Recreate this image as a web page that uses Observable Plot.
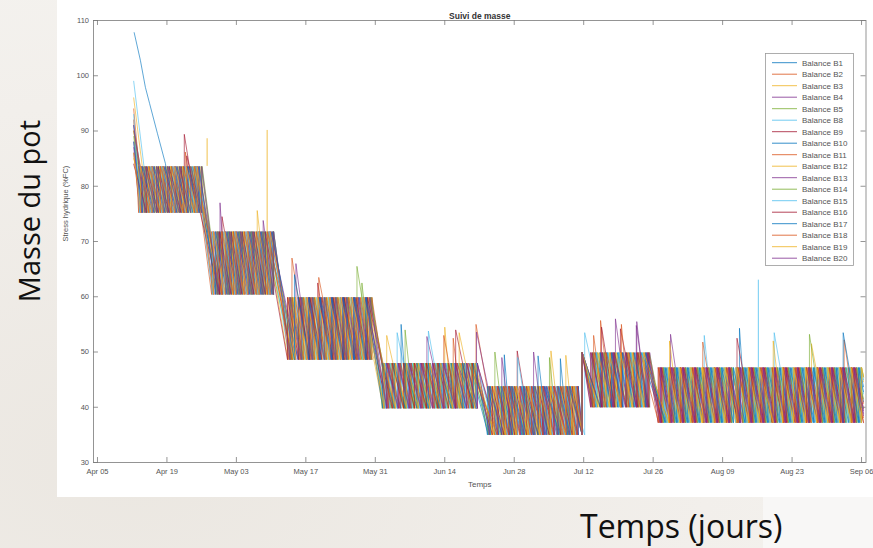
<!DOCTYPE html>
<html><head><meta charset="utf-8">
<script src="https://cdn.jsdelivr.net/npm/d3@7"></script>
<script src="https://cdn.jsdelivr.net/npm/@observablehq/plot@0.6"></script>
<style>
html,body{margin:0;padding:0;}
body{width:873px;height:548px;overflow:hidden;background:#f1eeea;}
#page{position:relative;width:873px;height:548px;overflow:hidden;
  background:radial-gradient(ellipse at 15% 85%, #ebe7e1 0%, #f2efeb 55%, #f6f5f2 100%);}
#fig{position:absolute;left:57px;top:0;width:816px;height:497px;background:#fff;}
#patch{position:absolute;left:763px;top:497px;width:110px;height:51px;background:#f8f7f6;}
#chart{position:absolute;left:0;top:0;}
#legend{position:absolute;left:765px;top:53px;}
.big{position:absolute;font-family:"Open Sans",sans-serif;color:#111;line-height:1;white-space:nowrap;}
#ylab{left:28px;top:211px;font-size:29px;transform:translate(-50%,-50%) rotate(-90deg);}
#xlab{left:580px;top:510px;font-size:32px;}
</style></head><body>
<div id="page">
  <div id="fig"></div>
  <div id="patch"></div>
  <div id="chart"></div>
  <svg id="legend" width="89" height="213"></svg>
  <div id="ylab" class="big">Masse du pot</div>
  <div id="xlab" class="big">Temps (jours)</div>
</div>
<script>
// ---------- data ----------
const seriesNames = ["Balance B1","Balance B2","Balance B3","Balance B4","Balance B5","Balance B8","Balance B9","Balance B10","Balance B11","Balance B12","Balance B13","Balance B14","Balance B15","Balance B16","Balance B17","Balance B18","Balance B19","Balance B20"];
const palette = ["#0072BD","#D95319","#EDB120","#7E2F8E","#77AC30","#4DBEEE","#A2142F"];

const xTickDates = ["2021-04-05","2021-04-19","2021-05-03","2021-05-17","2021-05-31","2021-06-14","2021-06-28","2021-07-12","2021-07-26","2021-08-09","2021-08-23","2021-09-06"];
const yTicks = [30,40,50,60,70,80,90,100,110];
const xDomainDays = [-0.8, 154.9];
const yDomain = [30, 110];

// watering regime phases (days since Apr 05)
const phaseStart = [0, 22.5, 37.5, 56.5, 77.5, 97.6, 112];
const phaseLow  = [75.2, 60.4, 48.6, 39.8, 35.0, 40.0, 37.2];
const phaseHigh = [83.6, 71.8, 59.9, 48.0, 43.8, 49.9, 47.2];

const startDay = 7.3;
const startVals = [107.8, 92, 96, 88, 90, 99, 86, 91, 94, 85, 87, 89, 93, 84, 88, 90, 86, 91];
const b1Start = [[7.4,107.8],[8.65,102.8],[9.66,97.9],[10.5,95.0],[12.1,89.5],[13.7,84.1]];
const endDay = 154.4;
const endVals = [41, 38.1, 44.6, 39.4, 45.5, 42.4, 37.2, 43.7, 40.7, 45.5, 38.5, 41.5, 45.0, 39.8, 42.8, 37.3, 45.5, 38.9];

// watering events (days since Apr 05) per series
const waterDays = [
 [15.0,17.4,19.8, 24.1,26.4,28.6,31.0,33.3,35.5, 39.0,41.3,43.5,45.9,48.2,50.4,52.8,55.1, 58.8,61.1,63.3,65.7,68.0,70.2,72.6,74.9, 78.8,81.1,83.3,85.7,88.0,90.2,92.6,94.9, 97.7,100.3,102.6,104.8,107.2,109.5, 114.0,116.3,118.5,120.9,123.2,125.4,127.8,130.1,132.3,134.7,137.0,139.2,141.6,143.9,146.1,148.5,150.8,153.0],
 [8.3,10.6,12.8,15.2,17.5,19.7, 23.0,25.3,27.5,29.9,32.2,34.4, 40.1,42.4,44.6,47.0,49.3,51.5,53.9, 57.7,60.0,62.2,64.6,66.9,69.1,71.5,73.8,76.0, 80.2,82.5,84.7,87.1,89.4,91.6,94.0,96.3, 97.7,99.6,101.9,104.1,106.5,108.8,111.0, 113.3,115.6,117.8,120.2,122.5,124.7,127.1,129.4,131.6,134.0,136.3,138.5,140.9,143.2,145.4,147.8,150.1,152.3],
 [10.2,12.5,14.7,17.1,19.4, 24.9,27.2,29.4,31.8,34.1, 38.4,40.7,42.9,45.3,47.6,49.8,52.2,54.5, 59.3,61.6,63.8,66.2,68.5,70.7,73.1,75.4, 79.4,81.7,83.9,86.3,88.6,90.8,93.2,95.5, 97.7,101.2,103.5,105.7,108.1,110.4, 114.8,117.1,119.3,121.7,124.0,126.2,128.6,130.9,133.1,135.5,137.8,140.0,142.4,144.7,146.9,149.3,151.6,153.8],
 [8.8,11.1,13.3,15.7,18.0,20.2, 23.5,25.8,28.0,30.4,32.7,34.9, 40.4,42.7,44.9,47.3,49.6,51.8,54.2, 58.2,60.5,62.7,65.1,67.4,69.6,72.0,74.3,76.5, 80.8,83.1,85.3,87.7,90.0,92.2,94.6,96.9, 97.7,99.9,102.2,104.4,106.8,109.1,111.3, 113.6,115.9,118.1,120.5,122.8,125.0,127.4,129.7,131.9,134.3,136.6,138.8,141.2,143.5,145.7,148.1,150.4,152.6],
 [9.7,12.0,14.2,16.6,18.9,21.1, 24.4,26.7,28.9,31.3,33.6, 39.3,41.6,43.8,46.2,48.5,50.7,53.1,55.3, 57.4,59.7,61.9,64.3,66.6,68.8,71.2,73.5,75.7, 79.8,82.1,84.3,86.7,89.0,91.2,93.6,95.9, 97.7,100.8,103.1,105.3,107.7,110.0, 115.2,117.5,119.7,122.1,124.4,126.6,129.0,131.3,133.5,135.9,138.2,140.4,142.8,145.1,147.3,149.7,152.0,154.0],
 [10.5,12.8,15.0,17.4,19.7, 25.2,27.5,29.7,32.1,34.4, 38.7,41.0,43.2,45.6,47.9,50.1,52.5,54.8, 59.0,61.3,63.5,65.9,68.2,70.4,72.8,75.1, 79.1,81.4,83.6,86.0,88.3,90.5,92.9,95.2, 97.7,101.5,103.8,106.0,108.4,110.7, 114.3,116.6,118.8,121.2,123.5,125.7,128.1,130.4,132.6,135.0,137.3,139.5,141.9,144.2,146.4,148.8,151.1,153.3],
 [8.6,10.9,13.1,15.5,17.8,20.0, 23.3,25.6,27.8,30.2,32.5,34.7, 39.8,42.1,44.3,46.7,49.0,51.2,53.6, 58.4,60.7,62.9,65.3,67.6,69.8,72.2,74.5,76.5, 80.5,82.8,85.0,87.4,89.7,91.9,94.3,96.6, 97.7,99.4,101.7,103.9,106.3,108.6,110.8, 113.0,115.3,117.5,119.9,122.2,124.4,126.8,129.1,131.3,133.7,136.0,138.2,140.6,142.9,145.1,147.5,149.8,152.0],
 [10.0,12.3,14.5,16.9,19.2, 24.7,27.0,29.2,31.6,33.9, 40.5,42.8,45.0,47.4,49.7,51.9,54.3, 57.9,60.2,62.4,64.8,67.1,69.3,71.7,74.0,76.2, 78.6,80.9,83.1,85.5,87.8,90.0,92.4,94.7,96.9, 97.7,100.5,102.8,105.0,107.4,109.7, 114.6,116.9,119.1,121.5,123.8,126.0,128.4,130.7,132.9,135.3,137.6,139.8,142.2,144.5,146.7,149.1,151.4,153.6],
 [9.2,11.5,13.7,16.1,18.4,20.6, 23.9,26.2,28.4,30.8,33.1,35.3, 38.6,40.9,43.1,45.5,47.8,50.0,52.4,54.7, 59.5,61.8,64.0,66.4,68.7,70.9,73.3,75.6, 80.0,82.3,84.5,86.9,89.2,91.4,93.8,96.1, 97.7,101.1,103.4,105.6,108.0,110.3, 113.9,116.2,118.4,120.8,123.1,125.3,127.7,130.0,132.2,134.6,136.9,139.1,141.5,143.8,146.0,148.4,150.7,152.9],
 [10.3,12.6,14.8,17.2,19.5, 25.0,27.3,29.5,31.9,34.2, 39.5,41.8,44.0,46.4,48.7,50.9,53.3, 57.6,59.9,62.1,64.5,66.8,69.0,71.4,73.7,75.9, 79.5,81.8,84.0,86.4,88.7,90.9,93.3,95.6, 97.7,100.1,102.4,104.6,107.0,109.3, 115.0,117.3,119.5,121.9,124.2,126.4,128.8,131.1,133.3,135.7,138.0,140.2,142.6,144.9,147.1,149.5,151.8,154.0],
 [8.9,11.2,13.4,15.8,18.1,20.3, 23.6,25.9,28.1,30.5,32.8,35.0, 40.2,42.5,44.7,47.1,49.4,51.6,54.0, 58.6,60.9,63.1,65.5,67.8,70.0,72.4,74.7, 80.7,83.0,85.2,87.6,89.9,92.1,94.5,96.8, 97.7,101.4,103.7,105.9,108.3,110.6, 113.4,115.7,117.9,120.3,122.6,124.8,127.2,129.5,131.7,134.1,136.4,138.6,141.0,143.3,145.5,147.9,150.2,152.4],
 [9.5,11.8,14.0,16.4,18.7,20.9, 24.2,26.5,28.7,31.1,33.4,35.5, 38.9,41.2,43.4,45.8,48.1,50.3,52.7,55.0, 59.2,61.5,63.7,66.1,68.4,70.6,73.0,75.3, 78.9,81.2,83.4,85.8,88.1,90.3,92.7,95.0, 97.7,99.8,102.1,104.3,106.7,109.0,111.2, 114.1,116.4,118.6,121.0,123.3,125.5,127.9,130.2,132.4,134.8,137.1,139.3,141.7,144.0,146.2,148.6,150.9,153.1],
 [8.5,10.8,13.0,15.4,17.7,19.9, 23.2,25.5,27.7,30.1,32.4,34.6, 39.7,42.0,44.2,46.6,48.9,51.1,53.5, 58.1,60.4,62.6,65.0,67.3,69.5,71.9,74.2,76.4, 80.3,82.6,84.8,87.2,89.5,91.7,94.1,96.4, 97.7,100.6,102.9,105.1,107.5,109.8, 114.9,117.2,119.4,121.8,124.1,126.3,128.7,131.0,133.2,135.6,137.9,140.1,142.5,144.8,147.0,149.4,151.7,153.9],
 [9.9,12.2,14.4,16.8,19.1, 24.6,26.9,29.1,31.5,33.8, 38.3,40.6,42.8,45.2,47.5,49.7,52.1,54.4, 59.4,61.7,63.9,66.3,68.6,70.8,73.2,75.5, 79.6,81.9,84.1,86.5,88.8,91.0,93.4,95.7, 97.7,99.7,102.0,104.2,106.6,108.9,111.1, 113.7,116.0,118.2,120.6,122.9,125.1,127.5,129.8,132.0,134.4,136.7,138.9,141.3,143.6,145.8,148.2,150.5,152.7],
 [9.1,11.4,13.6,16.0,18.3,20.5, 23.8,26.1,28.3,30.7,33.0,35.2, 40.3,42.6,44.8,47.2,49.5,51.7,54.1, 57.5,59.8,62.0,64.4,66.7,68.9,71.3,73.6,75.8, 79.2,81.5,83.7,86.1,88.4,90.6,93.0,95.3, 97.7,101.3,103.6,105.8,108.2,110.5, 114.4,116.7,118.9,121.3,123.6,125.8,128.2,130.5,132.7,135.1,137.4,139.6,142.0,144.3,146.5,148.9,151.2,153.4],
 [10.4,12.7,14.9,17.3,19.6, 25.1,27.4,29.6,32.0,34.3, 39.2,41.5,43.7,46.1,48.4,50.6,53.0,55.3, 58.7,61.0,63.2,65.6,67.9,70.1,72.5,74.8, 80.6,82.9,85.1,87.5,89.8,92.0,94.4,96.7, 97.7,100.2,102.5,104.7,107.1,109.4, 113.1,115.4,117.6,120.0,122.3,124.5,126.9,129.2,131.4,133.8,136.1,138.3,140.7,143.0,145.2,147.6,149.9,152.1],
 [8.7,11.0,13.2,15.6,17.9,20.1, 23.4,25.7,27.9,30.3,32.6,34.8, 39.9,42.2,44.4,46.8,49.1,51.3,53.7, 57.8,60.1,62.3,64.7,67.0,69.2,71.6,73.9,76.1, 79.9,82.2,84.4,86.8,89.1,91.3,93.7,96.0, 97.7,100.9,103.2,105.4,107.8,110.1, 115.1,117.4,119.6,122.0,124.3,126.5,128.9,131.2,133.4,135.8,138.1,140.3,142.7,145.0,147.2,149.6,151.9,154.0],
 [9.6,11.9,14.1,16.5,18.8,21.0, 24.3,26.6,28.8,31.2,33.5,35.5, 38.8,41.1,43.3,45.7,48.0,50.2,52.6,54.9, 58.3,60.6,62.8,65.2,67.5,69.7,72.1,74.4,76.6, 79.0,81.3,83.5,85.9,88.2,90.4,92.8,95.1, 97.7,99.5,101.8,104.0,106.4,108.7,110.9, 113.5,115.8,118.0,120.4,122.7,124.9,127.3,129.6,131.8,134.2,136.5,138.7,141.1,143.4,145.6,148.0,150.3,152.5]
];

// over-watering spikes [series index, day, peak]
const spikes = [
 [6,17.5,89.4],[13,18.0,85.5],[1,17.7,86.2],
 [10,24.7,77.0],[6,25.1,74.5],[2,32.2,75.6],[17,33.4,73.8],
 [1,39.2,67.0],[10,40.0,66.0],[14,39.7,64.0],[6,44.4,62.5],[8,44.6,63.5],[4,52.3,65.5],[11,53.3,62.5],
 [2,58.3,53.0],[5,60.4,53.5],[7,61.2,55.0],[11,62.0,54.0],[12,66.7,53.8],[3,66.4,52.8],[9,70.0,54.5],[15,69.8,53.0],[16,72.9,53.5],[8,71.7,52.5],[13,72.2,54.0],[1,76.3,55.0],[10,76.4,53.6],
 [4,80.1,50.0],[17,81.5,49.0],[0,82.0,49.5],[6,84.6,50.2],[12,84.7,49.0],[3,87.9,50.0],[14,88.8,49.3],[9,91.4,50.2],[11,91.1,49.0],[16,94.4,49.4],[7,93.3,48.8],
 [5,98.2,53.5],[8,101.4,55.7],[13,101.6,54.5],[3,104.4,56.0],[15,105.6,55.0],[6,105.4,54.2],[10,108.7,55.5],[17,108.6,54.8],[1,100.0,53.0],
 [3,115.5,53.2],[9,115.3,52.0],[12,122.3,53.0],[1,122.0,51.8],[7,129.4,54.3],[13,128.9,52.5],[5,136.4,53.5],[16,136.2,52.0],[11,143.5,53.2],[2,143.9,51.5],[14,150.3,53.5],[8,150.5,52.2]
];

// isolated measurement glitches [series index, day, peak]
const outliers = [[2,22.1,88.6],[9,34.2,90.1],[5,133.2,63.0]];

// ---------- build ----------
const baseDate = Date.UTC(2021, 3, 5);
const toDate = d => new Date(baseDate + d * 864e5);
const phaseOf = d => { let k = 0; phaseStart.forEach((s, j) => { if (d >= s) k = j; }); return k; };
const colors = seriesNames.map((_, i) => palette[i % palette.length]);

const rows = [];
seriesNames.forEach((name, i) => {
  const ev = waterDays[i].map(d => ({day: d, peak: null}));
  spikes.filter(s => s[0] === i).forEach(([, d, p]) => {
    let best = 0;
    ev.forEach((e, j) => { if (Math.abs(e.day - d) < Math.abs(ev[best].day - d)) best = j; });
    ev[best] = {day: d, peak: p};
  });
  ev.sort((a, b) => a.day - b.day);
  const start = i === 0 ? b1Start : [[startDay, startVals[i]]];
  start.forEach(([d, v]) => rows.push({series: name, date: toDate(d), v}));
  let prevK = 0;
  ev.forEach(e => {
    const k = phaseOf(e.day);
    const lo = (k > prevK && phaseLow[k] > phaseLow[prevK]) ? phaseLow[prevK] : phaseLow[k];
    rows.push({series: name, date: toDate(e.day), v: lo});
    rows.push({series: name, date: toDate(e.day), v: e.peak ?? phaseHigh[k]});
    prevK = k;
  });
  rows.push({series: name, date: toDate(endDay), v: endVals[i]});
});

const outlierRows = outliers.map(([i, d, p]) => ({series: seriesNames[i], date: toDate(d), base: phaseHigh[phaseOf(d)], peak: p}));
const xTicks = xTickDates.map(s => new Date(s + "T00:00:00Z"));
const xMin = toDate(xDomainDays[0]), xMax = toDate(xDomainDays[1]);
const tickX = 1.0;   // tick length in days
const tickY = 0.9;   // tick length in y units
const axisGray = "#7a7a7a";

const chart = Plot.plot({
  width: 873, height: 497,
  marginLeft: 93, marginRight: 7.5, marginTop: 20, marginBottom: 35,
  style: {fontFamily: "'Liberation Sans', Arial, sans-serif", fontSize: "7.5px", background: "transparent", overflow: "visible"},
  x: {type: "utc", domain: [xMin, xMax]},
  y: {domain: yDomain},
  color: {domain: seriesNames, range: colors},
  marks: [
    Plot.line(rows, {x: "date", y: "v", z: "series", stroke: "series", strokeWidth: 0.7, strokeOpacity: 0.9, curve: "linear"}),
    Plot.ruleX(outlierRows, {x: "date", y1: "base", y2: "peak", stroke: "series", strokeWidth: 0.8}),
    Plot.frame({stroke: axisGray, strokeWidth: 0.8}),
    Plot.ruleX(xTicks, {x: d => d, y1: yDomain[0], y2: yDomain[0] + tickY, stroke: axisGray, strokeWidth: 0.8}),
    Plot.ruleX(xTicks, {x: d => d, y1: yDomain[1] - tickY, y2: yDomain[1], stroke: axisGray, strokeWidth: 0.8}),
    Plot.ruleY(yTicks, {y: d => d, x1: xMin, x2: toDate(xDomainDays[0] + tickX), stroke: axisGray, strokeWidth: 0.8}),
    Plot.ruleY(yTicks, {y: d => d, x1: toDate(xDomainDays[1] - tickX), x2: xMax, stroke: axisGray, strokeWidth: 0.8}),
    Plot.axisX({ticks: xTicks, tickFormat: d3.utcFormat("%b %d"), tickSize: 0, tickPadding: 6, label: null, color: "#555"}),
    Plot.axisY({ticks: yTicks, tickSize: 0, tickPadding: 4.5, label: null, color: "#555"}),
    Plot.text(["Suivi de masse"], {frameAnchor: "top", dy: -8, fontWeight: "bold", fontSize: 8.5, fill: "#333"}),
    Plot.text(["Temps"], {frameAnchor: "bottom", dy: 24, fontSize: 8, fill: "#555"}),
    Plot.text(["Stress hydrique (%FC)"], {frameAnchor: "left", dx: -28, rotate: -90, fontSize: 7.5, fill: "#555"})
  ]
});
document.getElementById("chart").appendChild(chart);

// legend box (inside the axes, as in MATLAB)
const lg = d3.select("#legend");
lg.append("rect").attr("x", 0.5).attr("y", 0.5).attr("width", 88).attr("height", 212)
  .attr("fill", "#fff").attr("stroke", "#9a9a9a").attr("stroke-width", 0.8);
seriesNames.forEach((name, i) => {
  const y = 9.7 + i * 11.5;
  lg.append("line").attr("x1", 7).attr("x2", 32).attr("y1", y).attr("y2", y)
    .attr("stroke", colors[i]).attr("stroke-width", 0.8);
  lg.append("text").attr("x", 37).attr("y", y).attr("dy", "0.35em")
    .attr("font-family", "'Liberation Sans', Arial, sans-serif").attr("font-size", 8)
    .attr("fill", "#555").text(name);
});
</script>
</body></html>
